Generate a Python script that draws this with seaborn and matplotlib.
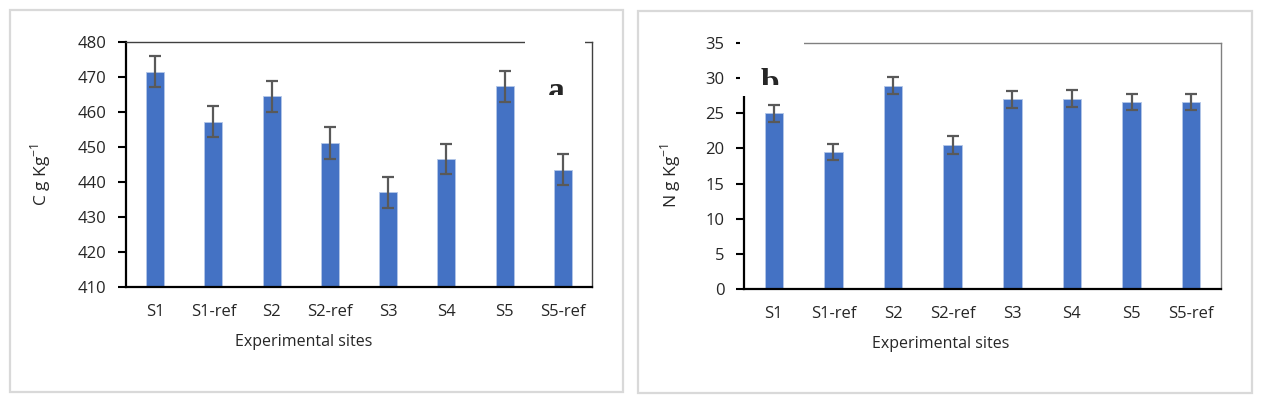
import matplotlib
matplotlib.use("Agg")
import matplotlib.pyplot as plt
import seaborn as sns
import pandas as pd
from matplotlib.patches import Rectangle
from matplotlib.transforms import Bbox, TransformedBbox

# data
sites = ["S1", "S1-ref", "S2", "S2-ref", "S3", "S4", "S5", "S5-ref"]
carbon = [471.5, 457.2, 464.5, 451.2, 437.1, 446.6, 467.4, 443.5]
carbon_err = [4.4, 4.4, 4.4, 4.5, 4.4, 4.4, 4.4, 4.4]
nitrogen = [25.0, 19.5, 28.9, 20.5, 27.0, 27.1, 26.6, 26.6]
nitrogen_err = [1.2, 1.2, 1.2, 1.3, 1.2, 1.2, 1.1, 1.2]
c_ticks = [410, 420, 430, 440, 450, 460, 470, 480]
n_ticks = [0, 5, 10, 15, 20, 25, 30, 35]

W, H = 1261, 404
sns.set_style("white")
plt.rcParams['font.family'] = ['Open Sans', 'DejaVu Sans']
plt.rcParams['mathtext.fontset'] = 'custom'
plt.rcParams['mathtext.rm'] = 'Open Sans'

fig = plt.figure(figsize=(W / 100, H / 100), dpi=100)


def px(x0, y0, x1, y1):
    # pixel box (top-left origin) -> figure fraction rect
    return [x0 / W, 1 - y1 / H, (x1 - x0) / W, (y1 - y0) / H]


def panel(rect, vals, errs, ticks, ylabel, ylab_xy, xlab_x, frame_col):
    ax = fig.add_axes(rect)
    df = pd.DataFrame({"site": sites, "val": vals})
    sns.barplot(data=df, x="site", y="val", color="#4472C4", saturation=1,
                width=0.31, errorbar=None, edgecolor="#b4c7e7", linewidth=0.6, ax=ax)
    ax.errorbar(range(len(sites)), vals, yerr=errs, fmt="none", ecolor="#595959",
                elinewidth=1.6, capsize=4.5, capthick=1.6, zorder=3)
    ax.set_xlim(-0.5, len(sites) - 0.5)
    ax.set_ylim(ticks[0], ticks[-1])
    ax.set_yticks(ticks)
    ax.set_xticks(range(len(sites)))
    ax.set_xticklabels(sites)
    ax.set_xticks([i - 0.5 for i in range(len(sites) + 1)], minor=True)
    ax.tick_params(axis="x", which="major", length=0, pad=12, labelsize=12)
    ax.tick_params(axis="x", which="minor", length=6, width=1.5, color="black", direction="out")
    ax.tick_params(axis="y", length=6, width=1.5, color="black", direction="out",
                   left=True, labelsize=12, pad=8)
    for s in ["left", "bottom"]:
        ax.spines[s].set_color("black")
        ax.spines[s].set_linewidth(1.6)
    for s in ["top", "right"]:
        ax.spines[s].set_color(frame_col)
        ax.spines[s].set_linewidth(1.0)
    ax.set_ylabel(ylabel, fontsize=12.5)
    ax.yaxis.set_label_coords(*ylab_xy)
    ax.set_xlabel("Experimental sites", fontsize=11.5)
    ax.xaxis.set_label_coords(xlab_x, -0.19)
    return ax


ax1 = panel(px(126, 42, 592, 287), carbon, carbon_err, c_ticks,
            "C g Kg$^{-1}$", (-0.157, 0.457), 0.382, "#404040")
ax2 = panel(px(744, 43, 1221, 289), nitrogen, nitrogen_err, n_ticks,
            "N g Kg$^{-1}$", (-0.128, 0.463), 0.413, "#808080")

# panel borders
for (x0, y0, x1, y1) in [(10, 10, 623, 392), (638, 11, 1252, 393)]:
    fig.add_artist(Rectangle((x0 / W, 1 - y1 / H), (x1 - x0) / W, (y1 - y0) / H,
                             transform=fig.transFigure, fill=False,
                             edgecolor="#d9d9d9", linewidth=1.6, zorder=4))

# white label boxes that hide part of the frame
for (x0, y0, x1, y1) in [(525, 36, 585, 95), (739.5, 36, 804, 95.5)]:
    fig.add_artist(Rectangle((x0 / W, 1 - y1 / H), (x1 - x0) / W, (y1 - y0) / H,
                             transform=fig.transFigure, facecolor="white",
                             edgecolor="none", zorder=5))

# panel letters, cut off at the bottom of their boxes
for letter, x, y, cut, wt in [("a", 556, 91, 95, "semibold"), ("b", 770, 83, 85, "bold")]:
    t = fig.text(x / W, 1 - y / H, letter, fontsize=24, fontweight=wt,
                 family="Liberation Serif", ha="center", va="center", zorder=6)
    t.set_clip_box(TransformedBbox(Bbox([[0, 1 - cut / H], [1, 1]]), fig.transFigure))
    t.set_clip_on(True)

fig.savefig("out.png", dpi=100)
